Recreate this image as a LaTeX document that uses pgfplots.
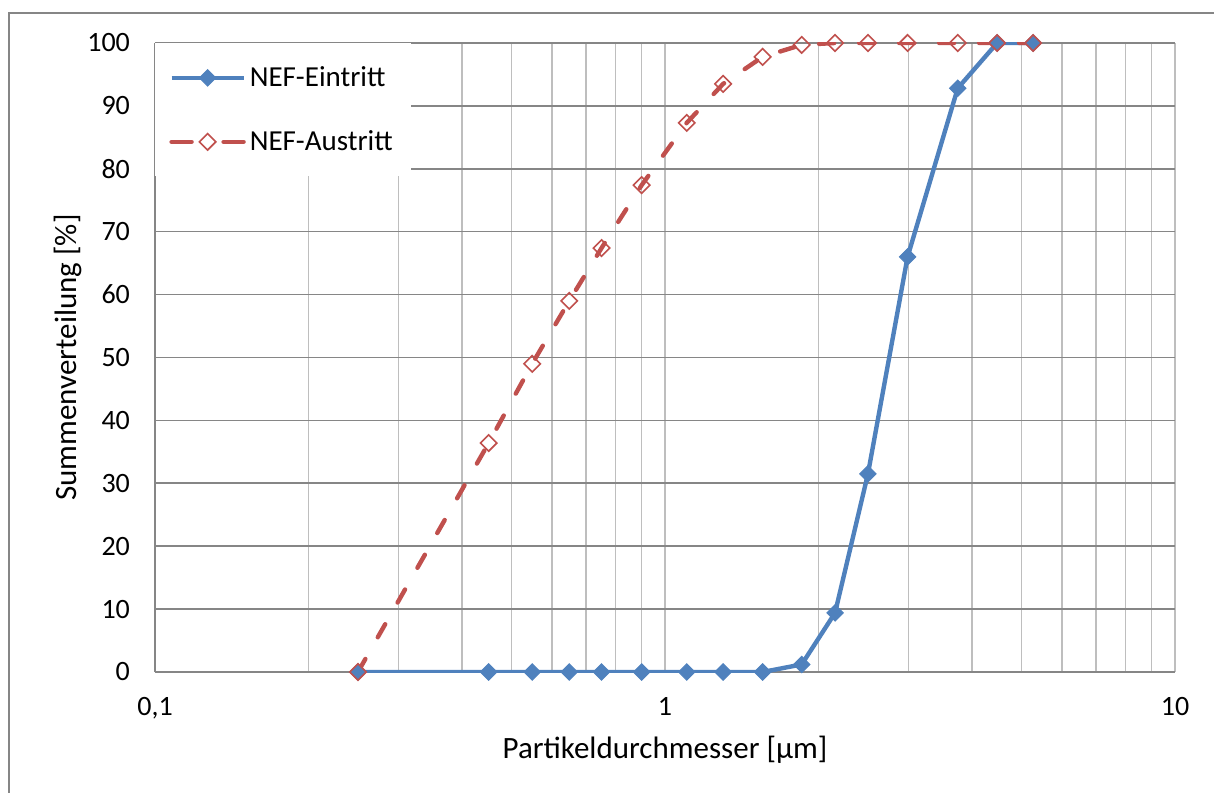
\documentclass[border=0pt]{standalone}
\usepackage{pgfplots}
\pgfplotsset{compat=1.18}
\usepackage{fontspec}
\setmainfont{Carlito}
\definecolor{cblue}{RGB}{79,129,189}
\definecolor{cred}{RGB}{192,80,77}
\definecolor{gdark}{RGB}{134,134,134}
\definecolor{glight}{RGB}{190,190,190}
\begin{document}
\begin{tikzpicture}[x=1pt,y=1pt]
\useasboundingbox (-77.5pt,-60pt) rectangle (529.5pt,336pt);
\draw[gdark,line width=0.8pt] (-73pt,-62pt) -- (-73pt,329.5pt) -- (531pt,329.5pt);
\begin{axis}[
  at={(0pt,0pt)}, anchor=south west,
  scale only axis,
  width=510pt, height=314.5pt,
  xmode=log,
  xmin=0.1, xmax=10,
  ymin=0, ymax=100,
  ytick={0,10,...,100},
  xtick={0.1,1,10},
  xticklabels={0{,}1,1,10},
  minor xtick={0.2,0.3,0.4,0.5,0.6,0.7,0.8,0.9,2,3,4,5,6,7,8,9},
  xmajorgrids=true, xminorgrids=true, ymajorgrids=true,
  major x grid style={glight,line width=0.8pt},
  minor x grid style={glight,line width=0.8pt},
  major y grid style={gdark,line width=0.8pt},
  axis lines*=left,
  axis line style={gdark,line width=0.8pt,-},
  major tick length=0pt, minor tick length=0pt,
  tick style={draw=none},
  /pgf/number format/assume math mode=true,
  ticklabel style={font=\fontsize{14}{16}\selectfont},
  yticklabel style={xshift=-9pt},
  xticklabel style={anchor=base, yshift=-21.5pt},
  xlabel={Partikeldurchmesser [µm]},
  ylabel={Summenverteilung [\%]},
  label style={font=\fontsize{15.5}{18}\selectfont},
  xlabel style={at={(axis description cs:0.5,0)}, yshift=-39pt, anchor=center},
  ylabel style={at={(axis description cs:0,0.5)}, yshift=43.5pt, anchor=center},
  legend style={at={(0,1)}, anchor=north west, draw=none, fill=white,
    font=\fontsize{14.5}{17}\selectfont, inner xsep=7pt, inner ysep=9.5pt,
    row sep=16.5pt, cells={anchor=west}, minimum width=0pt},
  legend image code/.code={
    \draw[mark repeat=2,mark phase=2,#1] plot coordinates {(0pt,0pt) (18pt,0pt) (36pt,0pt)};
  },
]
\addplot[cblue, line width=2.2pt, mark=square*, mark size=2.9pt,
  mark options={rotate=45, solid, fill=cblue, line width=0.5pt}]
  coordinates {
  (0.25,0) (0.451,0) (0.549,0) (0.649,0) (0.751,0) (0.90,0) (1.103,0) (1.30,0)
  (1.554,0) (1.854,1.2) (2.155,9.4) (2.5,31.5) (2.99,66) (3.75,92.8) (4.48,100) (5.27,100)
  };
\addlegendentry{NEF-Eintritt}
\addplot[cred, line width=2.2pt, dash pattern=on 7.5pt off 12.5pt, line cap=round,
  mark=square, mark size=2.9pt,
  mark options={rotate=45, solid, line width=0.8pt},
  legend image post style={dash pattern=on 10pt off 16pt}]
  coordinates {
  (0.25,0) (0.451,36.4) (0.549,49) (0.649,59) (0.751,67.4) (0.90,77.4) (1.103,87.3) (1.30,93.5)
  (1.554,97.8) (1.854,99.7) (2.155,100) (2.5,100) (2.99,100) (3.75,100) (4.48,100) (5.27,100)
  };
\addlegendentry{NEF-Austritt}
\end{axis}
\end{tikzpicture}
\end{document}
